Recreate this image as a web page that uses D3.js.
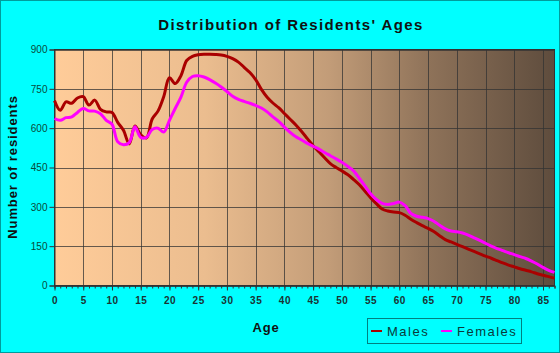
<!DOCTYPE html>
<html>
<head>
<meta charset="utf-8">
<script src="https://cdn.jsdelivr.net/npm/d3@7"></script>
<style>
  body { margin: 0; background: #00ffff; }
  text { font-family: "Liberation Sans", Arial, sans-serif; }
</style>
</head>
<body>
<div id="viz"></div>
<script>
// ages 0..87, one value per year
var ages = d3.range(0, 88);
var males = [705, 668, 700, 695, 715, 720, 688, 707, 672, 662,
  660, 622, 592, 540, 608, 575, 563, 635, 665, 720,
  792, 770, 800, 858, 874, 880, 882, 882, 881, 879,
  874, 865, 852, 832, 812, 785, 748, 718, 696, 678,
  656, 634, 612, 587, 560, 533, 510, 487, 465, 450,
  437, 423, 405, 385, 360, 335, 312, 292, 284, 280,
  278, 268, 253, 240, 228, 218, 206, 190, 175, 166,
  157, 148, 139, 130, 121, 112, 104, 95, 86, 78,
  71, 64, 58, 52, 45, 39, 34, 28];
var females = [637, 630, 640, 643, 660, 675, 666, 665, 655, 630,
  615, 548, 537, 545, 605, 565, 565, 595, 600, 585,
  630, 675, 718, 775, 797, 800, 795, 785, 772, 757,
  740, 722, 710, 702, 695, 687, 677, 662, 643, 626,
  604, 584, 567, 555, 542, 531, 520, 507, 495, 483,
  470, 455, 438, 410, 380, 350, 328, 313, 309, 313,
  318, 305, 275, 264, 260, 255, 245, 230, 216, 208,
  205, 200, 192, 182, 172, 161, 150, 141, 133, 125,
  118, 110, 103, 93, 82, 69, 58, 50];
var yTicks = [0, 150, 300, 450, 600, 750, 900];
var xTicks = d3.range(0, 90, 5);
var seriesNames = ["Males", "Females"];
var seriesColours = ["#aa0000", "#ff00ff"];

var width = 560, height = 353;
var plot = {left: 54.5, right: 554.5, top: 49.5, bottom: 285.5};

var svg = d3.select("#viz")
  .append("svg")
  .attr("width", width)
  .attr("height", height);

svg.append("rect")
  .attr("x", 0.5).attr("y", 0.5)
  .attr("width", width - 1).attr("height", height - 1)
  .attr("fill", "#00ffff")
  .attr("stroke", "#009c9c");

var grad = svg.append("defs").append("linearGradient")
  .attr("id", "bg")
  .attr("x1", "0").attr("x2", "1").attr("y1", "0").attr("y2", "0");
grad.append("stop").attr("offset", "0").attr("stop-color", "#ffcc99");
grad.append("stop").attr("offset", "0.3").attr("stop-color", "#ebbd8f");
grad.append("stop").attr("offset", "0.55").attr("stop-color", "#c29c78");
grad.append("stop").attr("offset", "0.75").attr("stop-color", "#8e7259");
grad.append("stop").attr("offset", "1").attr("stop-color", "#5e4c3d");

var x = d3.scaleLinear().domain([0, 87]).range([plot.left, plot.right]);
var y = d3.scaleLinear().domain([0, 900]).range([plot.bottom, plot.top]);

svg.append("rect")
  .attr("x", plot.left).attr("y", plot.top)
  .attr("width", plot.right - plot.left)
  .attr("height", plot.bottom - plot.top)
  .attr("fill", "url(#bg)");

// grid
svg.append("g").selectAll("line")
  .data(yTicks)
  .join("line")
  .attr("x1", plot.left).attr("x2", plot.right)
  .attr("y1", function(d) { return Math.round(y(d)) + 0.5; })
  .attr("y2", function(d) { return Math.round(y(d)) + 0.5; })
  .attr("stroke", "#333").attr("stroke-opacity", 0.75);

svg.append("g").selectAll("line")
  .data(xTicks.filter(function(d) { return d > 0; }))
  .join("line")
  .attr("x1", function(d) { return Math.round(x(d)) + 0.5; })
  .attr("x2", function(d) { return Math.round(x(d)) + 0.5; })
  .attr("y1", plot.top).attr("y2", plot.bottom)
  .attr("stroke", "#333").attr("stroke-opacity", 0.75);

svg.append("rect")
  .attr("x", plot.left).attr("y", plot.top)
  .attr("width", plot.right - plot.left)
  .attr("height", plot.bottom - plot.top)
  .attr("fill", "none")
  .attr("stroke", "#333");

// axes
var xAxis = d3.axisBottom(x)
  .tickValues(d3.range(0, 88))
  .tickSize(3)
  .tickFormat("");
svg.append("g")
  .attr("transform", "translate(0," + plot.bottom + ")")
  .call(xAxis)
  .call(function(g) { g.select(".domain").attr("stroke", "#333"); g.selectAll(".tick line").attr("stroke", "#333"); });

var xMajor = d3.axisBottom(x)
  .tickValues(xTicks)
  .tickSize(5)
  .tickPadding(6);
svg.append("g")
  .attr("transform", "translate(0," + plot.bottom + ")")
  .call(xMajor)
  .call(function(g) {
    g.select(".domain").remove();
    g.selectAll(".tick line").attr("stroke", "#333");
    g.selectAll(".tick text")
      .attr("font-size", 10)
      .attr("font-weight", "bold")
      .attr("letter-spacing", 0.5)
      .attr("fill", "#1a3333");
  });

var yAxis = d3.axisLeft(y)
  .tickValues(yTicks)
  .tickSize(5)
  .tickPadding(2);
svg.append("g")
  .attr("transform", "translate(" + plot.left + ",0)")
  .call(yAxis)
  .call(function(g) {
    g.select(".domain").attr("stroke", "#333");
    g.selectAll(".tick line").attr("stroke", "#333");
    g.selectAll(".tick text")
      .attr("font-size", 10)
      .attr("fill", "#0a4a3a");
  });

// lines
var line = d3.line()
  .x(function(d, i) { return x(ages[i]); })
  .y(function(d) { return y(d); })
  .curve(d3.curveCatmullRom.alpha(0.5));

[males, females].forEach(function(series, i) {
  svg.append("path")
    .datum(series)
    .attr("d", line)
    .attr("fill", "none")
    .attr("stroke", seriesColours[i])
    .attr("stroke-width", 3)
    .attr("stroke-linejoin", "round");
});

// titles
svg.append("text")
  .attr("x", 291).attr("y", 30)
  .attr("text-anchor", "middle")
  .attr("font-size", 15)
  .attr("font-weight", "bold")
  .attr("letter-spacing", 1.4)
  .attr("fill", "#111")
  .text("Distribution of Residents' Ages");

svg.append("text")
  .attr("transform", "translate(17,167) rotate(-90)")
  .attr("text-anchor", "middle")
  .attr("font-size", 13)
  .attr("font-weight", "bold")
  .attr("letter-spacing", 0.9)
  .attr("fill", "#111")
  .text("Number of residents");

svg.append("text")
  .attr("x", 266).attr("y", 332)
  .attr("text-anchor", "middle")
  .attr("font-size", 13)
  .attr("font-weight", "bold")
  .attr("letter-spacing", 0.8)
  .attr("fill", "#111")
  .text("Age");

// legend
var legend = svg.append("g");
legend.append("rect")
  .attr("x", 367.5).attr("y", 318.5)
  .attr("width", 154).attr("height", 25)
  .attr("fill", "none")
  .attr("stroke", "#008080");

var legendX = [371, 441];
seriesNames.forEach(function(name, i) {
  legend.append("line")
    .attr("x1", legendX[i]).attr("x2", legendX[i] + 11)
    .attr("y1", 331).attr("y2", 331)
    .attr("stroke", seriesColours[i])
    .attr("stroke-width", 2);
  legend.append("text")
    .attr("x", legendX[i] + 16).attr("y", 335.5)
    .attr("font-size", 13)
    .attr("letter-spacing", 1.5)
    .attr("fill", "#0a3a3a")
    .text(name);
});
</script>
</body>
</html>
